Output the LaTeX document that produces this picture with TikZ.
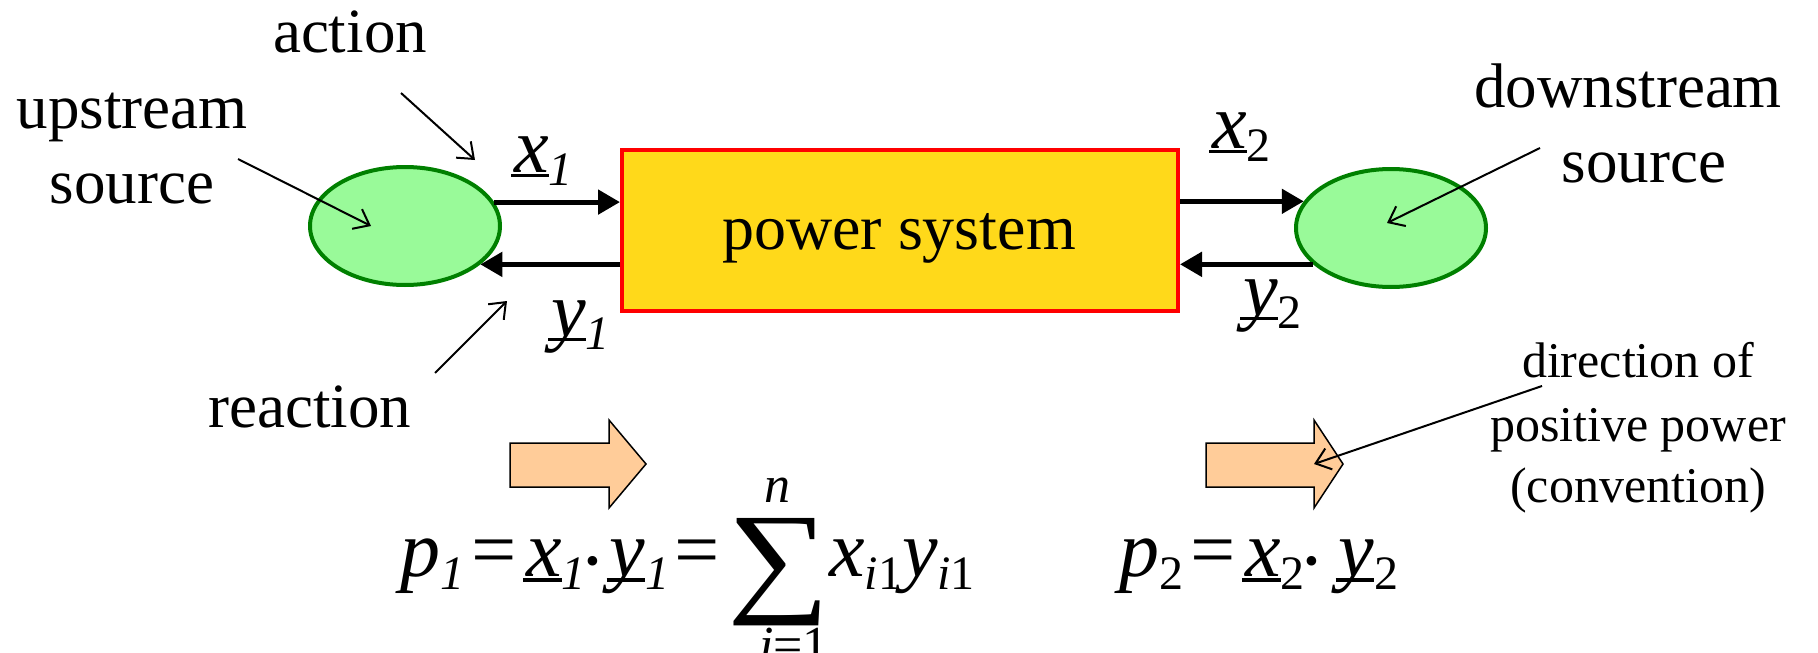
\documentclass[tikz,border=0pt]{standalone}
\usepackage{fontspec}
\setmainfont{Liberation Serif}
\usetikzlibrary{arrows.meta,shapes.geometric}
\definecolor{ellfill}{RGB}{153,250,153}
\definecolor{elldraw}{RGB}{0,128,0}
\definecolor{boxfill}{RGB}{255,217,26}
\definecolor{arrfill}{RGB}{255,204,153}
\newsavebox\ulbox
\newcommand{\ulx}[1]{\sbox\ulbox{#1}\rlap{\kern-0.04em\rule[-0.07em]{\dimexpr\wd\ulbox+0.04em\relax}{0.045em}}\usebox\ulbox}
\newcommand{\sbi}[1]{\raisebox{-0.17em}{\fontsize{48}{48}\selectfont #1}}
\newcommand{\dotp}{\raisebox{0.02em}{\fontsize{40}{40}\selectfont\textbullet}}
\begin{document}
\begin{tikzpicture}[x=1pt,y=-1pt,
  lab/.style={font=\fontsize{63}{75}\selectfont, inner sep=0pt, align=center},
  smalllab/.style={font=\fontsize{50}{62}\selectfont, inner sep=0pt, align=center},
  varlab/.style={font=\fontsize{78}{90}\selectfont\itshape, inner sep=0pt},
  eq/.style={font=\fontsize{80}{96}\selectfont\itshape, inner sep=0pt},
  limlab/.style={font=\fontsize{52}{60}\selectfont\itshape, inner sep=0pt},
  ptr/.style={line width=2pt, -{Straight Barb[length=14pt,width=22pt,line width=2pt]}},
  flow/.style={line width=5pt, -{Triangle[length=22pt,width=24pt]}},
  src/.style={ellipse, draw=elldraw, fill=ellfill, line width=4pt, minimum width=190pt, minimum height=118pt, inner sep=0pt},
  sysbox/.style={rectangle, draw=red, fill=boxfill, line width=4pt, minimum width=556pt, minimum height=161pt, inner sep=0pt},
  block/.style={draw=black, line width=1.5pt, fill=arrfill, line join=miter}]
\useasboundingbox (0,0) rectangle (1818,653);

% main shapes
\node[src] (srcL) at (405,226) {};
\node[src] (srcR) at (1391,228) {};
\node[sysbox] (sys) at (900,230.5) {};
\node[lab, font=\fontsize{64}{76}\selectfont, anchor=base] (systxt) at (899,249) {power system};

% flow arrows
\draw[flow] (srcL.15) -- (srcL.15 -| sys.west);
\draw[flow] (srcL.-27 -| sys.west) -- (srcL.-27);
\draw[flow] (srcR.163 -| sys.east) -- (srcR.163);
\draw[flow] (srcR.205) -- (srcR.205 -| sys.east);

% variable labels
\node[varlab, anchor=base west] (x1) at (514,172) {\ulx{x}\sbi{1}};
\node[varlab, anchor=base west] (y1) at (551,336) {\ulx{y}\sbi{1}};
\node[varlab, anchor=base west] (x2) at (1212,148) {\ulx{x}\sbi{\upshape 2}};
\node[varlab, anchor=base west] (y2) at (1243,315) {\ulx{y}\sbi{\upshape 2}};

% text labels
\node[lab, anchor=base] (action) at (350,52) {action};
\node[lab, anchor=base] (up1) at (132,128) {upstream};
\node[lab, anchor=base] (up2) at (132,203) {source};
\node[lab, anchor=base] (reaction) at (310,427) {reaction};
\node[lab, anchor=base] (down1) at (1628,107) {downstream};
\node[lab, anchor=base] (down2) at (1644,182) {source};
\node[smalllab, anchor=base] (dir1) at (1638,377) {direction of};
\node[smalllab, anchor=base] (dir2) at (1638,441) {positive power};
\node[smalllab, anchor=base] (dir3) at (1638,502) {(convention)};

% block arrows
\draw[block] (510,443) -- (609,443) -- (609,420) -- (646,464) -- (609,508) -- (609,487) -- (510,487) -- cycle;
\draw[block] (1206,443) -- (1314,443) -- (1314,420) -- (1343,464) -- (1314,508) -- (1314,487) -- (1206,487) -- cycle;

% pointer arrows
\coordinate (actS) at (401,93);
\coordinate (actE) at (475,160);
\coordinate (upS) at (238,159);
\coordinate (upE) at (371,226);
\coordinate (reaS) at (435,373);
\coordinate (reaE) at (507,301);
\coordinate (dnS) at (1540,148);
\coordinate (dnE) at (1387,223);
\coordinate (dirS) at (1542,386);
\coordinate (dirE) at (1314,464);
\draw[ptr] (actS) -- (actE);
\draw[ptr] (upS) -- (upE);
\draw[ptr] (reaS) -- (reaE);
\draw[ptr] (dnS) -- (dnE);
\draw[ptr] (dirS) -- (dirE);

% formulas
\node[eq, anchor=base west] (p1) at (400,576) {p\sbi{1}\kern2pt=\kern6pt\ulx{x}\sbi{1}\dotp\kern10pt\ulx{y}\sbi{1}=};
\node[inner sep=0pt] (sum) at (779,572) {\scalebox{1.5}[1.29]{\fontsize{96}{96}\selectfont ∑}};
\node[limlab] (sumtop) at (777,490) {n};
\node[limlab, anchor=north] (sumbot) at (794,628) {i\upshape =1};
\node[eq, anchor=base west] (xy) at (829,576) {x\sbi{i\upshape 1}y\sbi{i\upshape 1}};
\node[eq, anchor=base west] (p2) at (1119,576) {p\sbi{\upshape 2}\kern2pt=\kern6pt\ulx{x}\sbi{\upshape 2}\dotp\kern20pt\ulx{y}\sbi{\upshape 2}};
\end{tikzpicture}
\end{document}
